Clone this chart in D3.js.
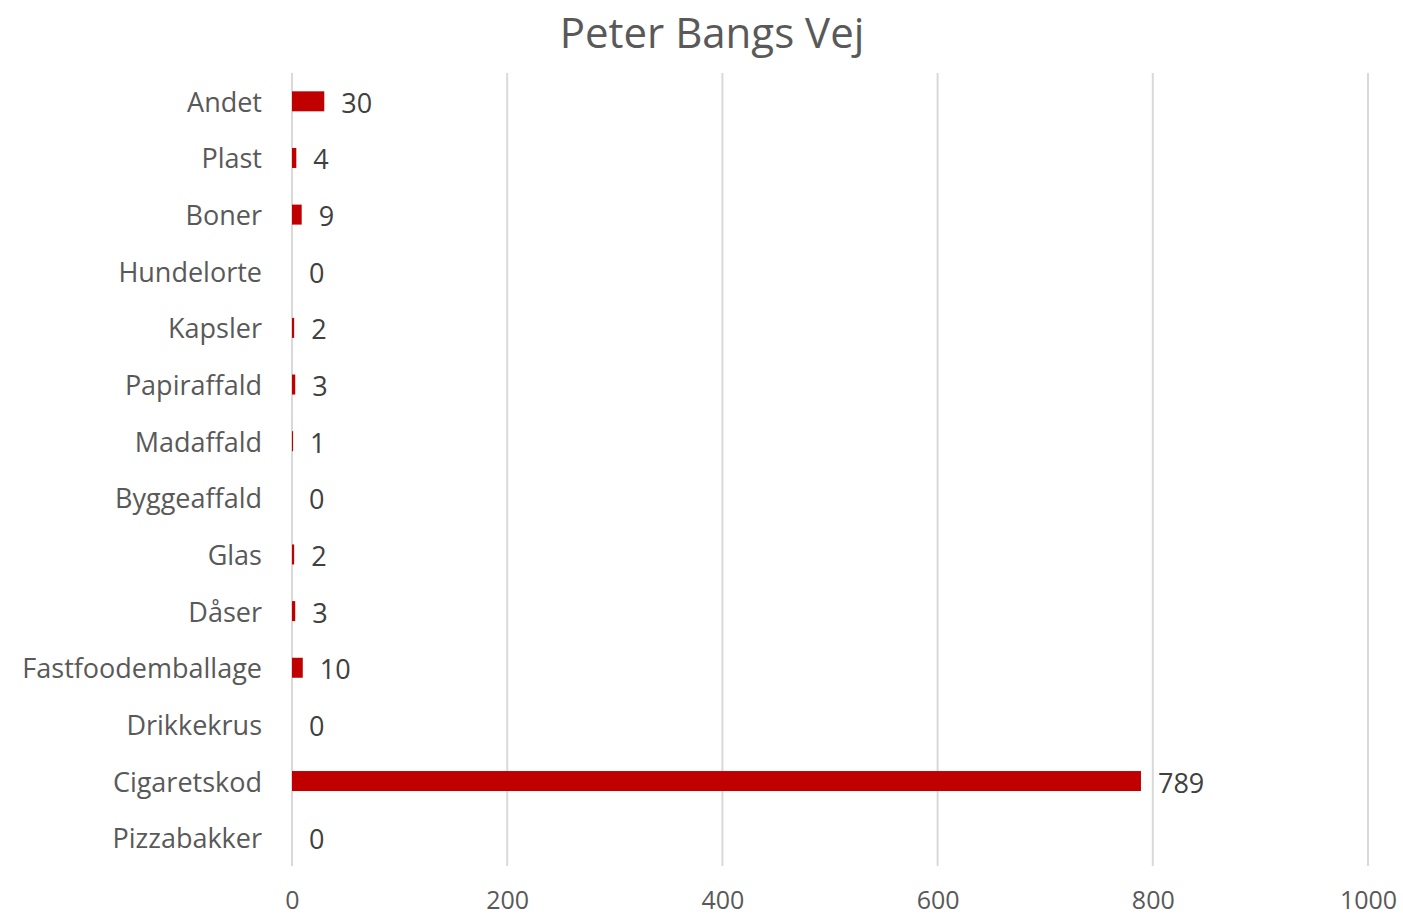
<!DOCTYPE html>
<html><head><meta charset="utf-8">
<script src="https://cdn.jsdelivr.net/npm/d3@7"></script>
<style>html,body{margin:0;padding:0;background:#fff;}</style>
</head><body>
<svg id="c" width="1403" height="920"></svg>
<script>
const categories = ["Andet","Plast","Boner","Hundelorte","Kapsler","Papiraffald","Madaffald","Byggeaffald","Glas","Dåser","Fastfoodemballage","Drikkekrus","Cigaretskod","Pizzabakker"];
const values = [30,4,9,0,2,3,1,0,2,3,10,0,789,0];
const xTicks = [0,200,400,600,800,1000];
const title = "Peter Bangs Vej";

const FONT = "'Open Sans', 'Noto Sans', sans-serif";
const TXT = "#595959";
const svg = d3.select("#c");
const m = {left:292, right:1368, top:73, bottom:866};

const x = d3.scaleLinear().domain([0,1000]).range([m.left, m.right]);
const y = d3.scaleBand().domain(categories).range([m.top, m.bottom]).paddingInner(0.647).paddingOuter(0.3235);

svg.append("text").attr("x",712).attr("y",31).attr("text-anchor","middle").attr("dominant-baseline","central")
  .attr("font-family",FONT).attr("font-size",42).attr("fill",TXT).text(title);

// gridlines
svg.append("g").selectAll("line").data(xTicks).join("line")
  .attr("x1",d=>x(d)).attr("x2",d=>x(d)).attr("y1",m.top).attr("y2",m.bottom)
  .attr("stroke","#d9d9d9").attr("stroke-width",2);

// x axis labels
const xa = svg.append("g").attr("transform",`translate(0,${m.bottom})`)
  .call(d3.axisBottom(x).tickValues(xTicks).tickSize(0).tickPadding(0).tickFormat(d3.format("d")));
xa.select(".domain").remove();
xa.selectAll("text").attr("font-family",FONT).attr("font-size",25).attr("fill",TXT).attr("dy",null)
  .attr("y",33).attr("dominant-baseline","central");

// y axis labels
const ya = svg.append("g").attr("transform",`translate(${m.left},0)`)
  .call(d3.axisLeft(y).tickSize(0).tickPadding(30));
ya.select(".domain").remove();
ya.selectAll("text").attr("font-family",FONT).attr("font-size",27).attr("fill",TXT).attr("dy",null)
  .attr("dominant-baseline","central");

// bars
svg.append("g").selectAll("rect").data(categories).join("rect")
  .attr("x",x(0)).attr("y",d=>y(d)).attr("height",y.bandwidth())
  .attr("width",(d,i)=>x(values[i])-x(0)).attr("fill","#c00000");

// data labels
svg.append("g").selectAll("text").data(categories).join("text")
  .attr("x",(d,i)=>x(values[i])+17).attr("y",d=>y(d)+y.bandwidth()/2+1)
  .attr("dominant-baseline","central").attr("font-family",FONT).attr("font-size",27).attr("fill","#404040")
  .text((d,i)=>values[i]);
</script>
</body></html>
